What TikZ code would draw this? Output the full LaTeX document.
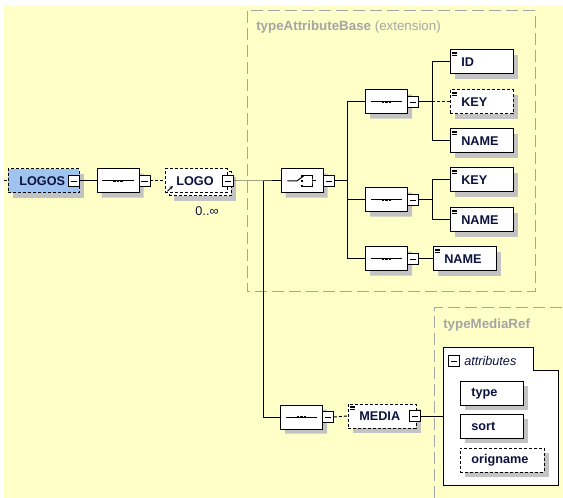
\documentclass[tikz,border=0pt]{standalone}
\usepackage{fontspec}
\setmainfont{Liberation Sans}
\usepackage{tikz}
\usetikzlibrary{shapes.misc,arrows.meta}

\definecolor{paper}{RGB}{255,255,200}
\definecolor{framegray}{RGB}{165,165,165}
\definecolor{shadowgray}{RGB}{195,195,195}
\definecolor{ink}{RGB}{12,18,62}
\definecolor{rootblue}{RGB}{160,196,240}

\tikzset{
  schemafont/.style={font=\fontsize{9.5}{11}\selectfont},
  boxshadow/.style={preaction={fill=shadowgray, draw=none,
    transform canvas={shift={(3.5pt,-3.5pt)}}}},
  flatbox/.style={draw, fill=white, line width=0.75pt, text=ink,
    font=\fontsize{9.5}{11}\selectfont\bfseries,
    minimum height=18pt, inner sep=0pt, text width=#1, align=left,
    execute at begin node={\hspace*{8.5pt}}},
  flatbox/.default=47.25pt,
  elem/.style={flatbox=#1, boxshadow},
  elem/.default=47.25pt,
  optional/.style={dash pattern=on 2.25pt off 1.5pt},
  % the little "simple content" mark in the top left corner
  simple/.style={path picture={
    \foreach \k in {1.4pt,2.8pt,4.2pt}
      \draw[solid, black, line width=0.5pt] ([shift={(1.6pt,-\k)}]path picture bounding box.north west) -- ++(3.6pt,0pt);}},
  collapse/.style={draw, fill=white, line width=0.6pt, minimum size=8.25pt, inner sep=0pt,
    path picture={\draw[solid, black, line width=0.6pt] ([xshift=1.6pt]path picture bounding box.west) -- ([xshift=-1.6pt]path picture bounding box.east);}},
  octagon/.style={chamfered rectangle, chamfered rectangle sep=4.5pt, draw, fill=white,
    line width=0.75pt, boxshadow, minimum width=31.5pt, minimum height=18pt, inner sep=0pt},
  seqbox/.style={octagon, path picture={
    \draw[black, line width=0.75pt] ([xshift=4pt]path picture bounding box.west) -- ([xshift=-4pt]path picture bounding box.east);
    \foreach \d in {-2.6pt,0pt,2.6pt}
      \fill[black] ([xshift=\d]path picture bounding box.center) +(-1pt,-1pt) rectangle +(1pt,1pt);}},
  choicebox/.style={octagon, path picture={
    \coordinate (c) at (path picture bounding box.center);
    \draw[black, line width=0.75pt] ([xshift=-11pt]c) -- ([xshift=-3.8pt]c) -- ([shift={(1.2pt,3.8pt)}]c);
    \draw[black, line width=0.75pt] ([shift={(0.4pt,3.8pt)}]c) -| ([xshift=7.5pt]c) |- ([shift={(0.4pt,-3.8pt)}]c);
    \draw[black, line width=0.75pt] ([xshift=7.5pt]c) -- ([xshift=10.8pt]c);
    \foreach \d in {-3.8pt,0pt,3.8pt}
      \fill[black] ([yshift=\d]c) +(-1pt,-1pt) rectangle +(1pt,1pt);}},
  wire/.style={line width=0.75pt},
  frame/.style={framegray, line width=0.75pt, dash pattern=on 9pt off 3.75pt},
}

\begin{document}
\begin{tikzpicture}[x=0.75pt,y=-0.75pt]
  \useasboundingbox (0,0) rectangle (563,498);
  \fill[paper] (4,6) rectangle (563,498);

  % base type frames
  \draw[frame] (247,11) rectangle (535,292);
  \node[anchor=west, inner sep=0pt, text=framegray, font=\fontsize{10}{12}\selectfont] (basetitle) at (256,27)
    {\textbf{typeAttributeBase} (extension)};
  \draw[frame] (434,498) -- (434,308) -- (563,308);
  \node[anchor=west, inner sep=0pt, text=framegray, font=\fontsize{10}{12}\selectfont] (mediatitle) at (443,325)
    {\textbf{typeMediaRef}};

  % root and the repeated LOGO
  \coordinate (rootin) at (4,181);
  \node[elem=53.25pt, fill=rootblue, optional] (logos) at (43.5,181) {LOGOS};
  \node[collapse] (logos-m) at (74,181) {};
  \node[seqbox] (seq1) at (118,181) {};
  \node[collapse] (seq1-m) at (144.5,181) {};
  \node[elem=46.5pt, optional] (logo-back) at (200,184) {};
  \node[flatbox=46.5pt, optional] (logo) at (196,181) {LOGO};
  \node[collapse] (logo-m) at (228,181) {};
  \node[schemafont, text=ink, inner sep=0pt] (logo-occ) at (207,211) {0..∞};
  \draw[-{Stealth[length=2.4pt,width=2.4pt]}, line width=0.6pt]
    ([shift={(2.2pt,1.6pt)}]logo.south west) -- ++(4pt,4pt);

  % choice and its three sequences
  \node[choicebox] (choice) at (302,181) {};
  \node[collapse] (choice-m) at (329,181) {};
  \node[seqbox] (seq2) at (386.5,102) {};
  \node[collapse] (seq2-m) at (413,102) {};
  \node[seqbox] (seq3) at (386.5,200) {};
  \node[collapse] (seq3-m) at (413,200) {};
  \node[seqbox] (seq4) at (386.5,259) {};
  \node[collapse] (seq4-m) at (413,259) {};

  \node[elem, simple] (id) at (481.5,62) {ID};
  \node[elem, simple, optional] (key1) at (481.5,102) {KEY};
  \node[elem, simple] (name1) at (481.5,141) {NAME};
  \node[elem, simple] (key2) at (481.5,180) {KEY};
  \node[elem, simple] (name2) at (481.5,220) {NAME};
  \node[elem, simple] (name3) at (464.5,259) {NAME};

  % MEDIA branch
  \node[seqbox] (mseq) at (301.5,417) {};
  \node[collapse] (mseq-m) at (328,417) {};
  \node[elem=51pt, simple, optional] (media) at (382,416) {MEDIA};
  \node[collapse] (media-m) at (415,416) {};

  \draw[line width=0.75pt, fill=white] (443,348) -- (533,348) -- (533,370) -- (558,370)
    -- (558,485) -- (443,485) -- cycle;
  \coordinate (attrs) at (443,416);
  \node[collapse] (attr-m) at (454,361) {};
  \node[anchor=west, inner sep=0pt, text=ink, font=\fontsize{9.5}{11}\selectfont\itshape]
    (attr-title) at (464,361) {attributes};
  \node[elem] (type) at (491.5,393.5) {type};
  \node[elem] (sort) at (491.5,426.5) {sort};
  \node[elem=63pt, optional] (origname) at (502,460) {origname};

  % connectors
  \draw[wire, optional] (rootin) -- (logos.west);
  \draw[wire] (logos-m.east) -- (seq1.west);
  \draw[wire, optional] (seq1-m.east) -- (logo.west);
  \draw[wire] (logo-m.east) -- ++(29.5,0) coordinate (fork) -- (choice.west);
  \draw[wire] (fork) |- (mseq.west);
  \draw[wire] (choice-m.east) -- ++(12.5,0) coordinate (cfork);
  \draw[wire] (cfork) |- (seq2.west) (cfork) |- (seq3.west) (cfork) |- (seq4.west);
  \draw[wire] (seq2-m.east) -- ++(13.5,0) coordinate (s2fork);
  \draw[wire] (s2fork) |- (id.west) (s2fork) |- (name1.west);
  \draw[wire, optional] (s2fork) -- (key1.west);
  \draw[wire] (seq3-m.east) -- ++(13.5,0) coordinate (s3fork);
  \draw[wire] (s3fork) |- (key2.west) (s3fork) |- (name2.west);
  \draw[wire] (seq4-m.east) -- (name3.west);
  \draw[wire, optional] (mseq-m.east) -- (media.west);
  \draw[wire] (media-m.east) -- (attrs);
\end{tikzpicture}
\end{document}
